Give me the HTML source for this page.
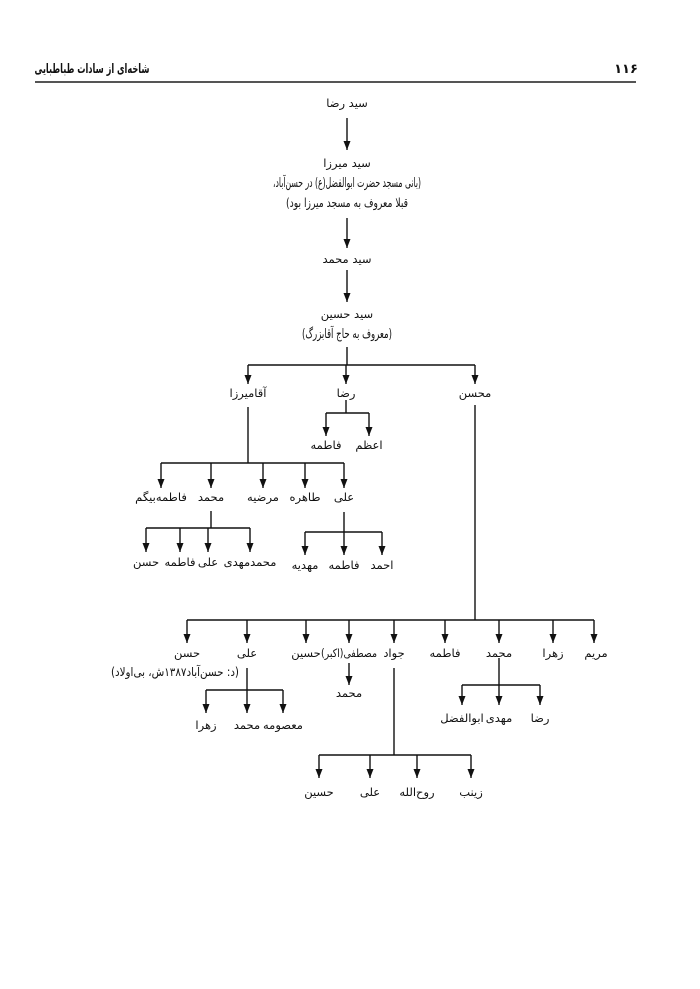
<!DOCTYPE html>
<html><head><meta charset="utf-8"><style>
html,body{margin:0;padding:0;background:#fff;}
svg{display:block}
text{font-family:"DejaVu Sans",sans-serif;font-size:11.5px;fill:#111;text-anchor:middle;direction:rtl;}
</style></head><body>
<svg width="700" height="989" viewBox="0 0 700 989" xmlns="http://www.w3.org/2000/svg">
<defs><marker id="a" markerWidth="9" markerHeight="7" refX="9" refY="3.5" orient="auto" markerUnits="userSpaceOnUse" viewBox="0 0 9 7"><path d="M0,0 L9,3.5 L0,7 Z" fill="#111"/></marker></defs>
<g stroke="#111" stroke-width="1.4" fill="none">
<line x1="35" y1="82" x2="636" y2="82" stroke="#555" stroke-width="2"/>
<line x1="347" y1="118" x2="347" y2="150" marker-end="url(#a)"/>
<line x1="347" y1="218" x2="347" y2="248" marker-end="url(#a)"/>
<line x1="347" y1="270" x2="347" y2="302" marker-end="url(#a)"/>
<line x1="347" y1="347" x2="347" y2="365"/>
<line x1="248" y1="365" x2="475" y2="365"/>
<line x1="248" y1="365" x2="248" y2="384" marker-end="url(#a)"/>
<line x1="346" y1="365" x2="346" y2="384" marker-end="url(#a)"/>
<line x1="475" y1="365" x2="475" y2="384" marker-end="url(#a)"/>
<line x1="346" y1="400" x2="346" y2="413"/>
<line x1="326" y1="413" x2="369" y2="413"/>
<line x1="326" y1="413" x2="326" y2="436" marker-end="url(#a)"/>
<line x1="369" y1="413" x2="369" y2="436" marker-end="url(#a)"/>
<line x1="248" y1="407" x2="248" y2="463"/>
<line x1="161" y1="463" x2="344" y2="463"/>
<line x1="161" y1="463" x2="161" y2="488" marker-end="url(#a)"/>
<line x1="211" y1="463" x2="211" y2="488" marker-end="url(#a)"/>
<line x1="263" y1="463" x2="263" y2="488" marker-end="url(#a)"/>
<line x1="305" y1="463" x2="305" y2="488" marker-end="url(#a)"/>
<line x1="344" y1="463" x2="344" y2="488" marker-end="url(#a)"/>
<line x1="344" y1="512" x2="344" y2="532"/>
<line x1="305" y1="532" x2="382" y2="532"/>
<line x1="305" y1="532" x2="305" y2="555" marker-end="url(#a)"/>
<line x1="344" y1="532" x2="344" y2="555" marker-end="url(#a)"/>
<line x1="382" y1="532" x2="382" y2="555" marker-end="url(#a)"/>
<line x1="211" y1="511" x2="211" y2="528"/>
<line x1="146" y1="528" x2="250" y2="528"/>
<line x1="146" y1="528" x2="146" y2="552" marker-end="url(#a)"/>
<line x1="180" y1="528" x2="180" y2="552" marker-end="url(#a)"/>
<line x1="208" y1="528" x2="208" y2="552" marker-end="url(#a)"/>
<line x1="250" y1="528" x2="250" y2="552" marker-end="url(#a)"/>
<line x1="475" y1="405" x2="475" y2="620"/>
<line x1="187" y1="620" x2="594" y2="620"/>
<line x1="187" y1="620" x2="187" y2="643" marker-end="url(#a)"/>
<line x1="247" y1="620" x2="247" y2="643" marker-end="url(#a)"/>
<line x1="306" y1="620" x2="306" y2="643" marker-end="url(#a)"/>
<line x1="349" y1="620" x2="349" y2="643" marker-end="url(#a)"/>
<line x1="394" y1="620" x2="394" y2="643" marker-end="url(#a)"/>
<line x1="445" y1="620" x2="445" y2="643" marker-end="url(#a)"/>
<line x1="499" y1="620" x2="499" y2="643" marker-end="url(#a)"/>
<line x1="553" y1="620" x2="553" y2="643" marker-end="url(#a)"/>
<line x1="594" y1="620" x2="594" y2="643" marker-end="url(#a)"/>
<line x1="247" y1="668" x2="247" y2="690"/>
<line x1="206" y1="690" x2="283" y2="690"/>
<line x1="206" y1="690" x2="206" y2="713" marker-end="url(#a)"/>
<line x1="247" y1="690" x2="247" y2="713" marker-end="url(#a)"/>
<line x1="283" y1="690" x2="283" y2="713" marker-end="url(#a)"/>
<line x1="349" y1="663" x2="349" y2="685" marker-end="url(#a)"/>
<line x1="499" y1="658" x2="499" y2="685"/>
<line x1="462" y1="685" x2="540" y2="685"/>
<line x1="462" y1="685" x2="462" y2="705" marker-end="url(#a)"/>
<line x1="499" y1="685" x2="499" y2="705" marker-end="url(#a)"/>
<line x1="540" y1="685" x2="540" y2="705" marker-end="url(#a)"/>
<line x1="394" y1="668" x2="394" y2="755"/>
<line x1="319" y1="755" x2="471" y2="755"/>
<line x1="319" y1="755" x2="319" y2="778" marker-end="url(#a)"/>
<line x1="370" y1="755" x2="370" y2="778" marker-end="url(#a)"/>
<line x1="417" y1="755" x2="417" y2="778" marker-end="url(#a)"/>
<line x1="471" y1="755" x2="471" y2="778" marker-end="url(#a)"/>
</g>
<text x="92" y="73" style="font-weight:bold;font-size:13px" textLength="115" lengthAdjust="spacingAndGlyphs">شاخه‌ای از سادات طباطبایی</text>
<text x="626" y="73" style="font-weight:bold;font-size:13px">۱۱۶</text>
<text x="347" y="107">سید رضا</text>
<text x="347" y="167">سید میرزا</text>
<text x="347" y="187" style="font-size:13px" textLength="148" lengthAdjust="spacingAndGlyphs">(بانی مسجد حضرت ابوالفضل(ع) در حسن‌آباد،</text>
<text x="347" y="207" style="font-size:12.5px" textLength="122" lengthAdjust="spacingAndGlyphs">قبلا معروف به مسجد میرزا بود)</text>
<text x="347" y="263">سید محمد</text>
<text x="347" y="318">سید حسین</text>
<text x="347" y="338" style="font-size:13px" textLength="90" lengthAdjust="spacingAndGlyphs">(معروف به حاج آقابزرگ)</text>
<text x="248" y="397">آقامیرزا</text>
<text x="346" y="397">رضا</text>
<text x="475" y="397">محسن</text>
<text x="326" y="449">فاطمه</text>
<text x="369" y="449">اعظم</text>
<text x="161" y="501">فاطمه‌بیگم</text>
<text x="211" y="501">محمد</text>
<text x="263" y="501">مرضیه</text>
<text x="305" y="501">طاهره</text>
<text x="344" y="501">علی</text>
<text x="146" y="566">حسن</text>
<text x="180" y="566">فاطمه</text>
<text x="208" y="566">علی</text>
<text x="250" y="566">محمدمهدی</text>
<text x="305" y="569">مهدیه</text>
<text x="344" y="569">فاطمه</text>
<text x="382" y="569">احمد</text>
<text x="187" y="657">حسن</text>
<text x="247" y="657">علی</text>
<text x="306" y="657">حسین</text>
<text x="349" y="657" textLength="56" lengthAdjust="spacingAndGlyphs">مصطفی(اکبر)</text>
<text x="394" y="657">جواد</text>
<text x="445" y="657">فاطمه</text>
<text x="499" y="657">محمد</text>
<text x="553" y="657">زهرا</text>
<text x="596" y="657">مریم</text>
<text x="175" y="676" style="font-size:12px" textLength="128" lengthAdjust="spacingAndGlyphs">(د: حسن‌آباد۱۳۸۷ش، بی‌اولاد)</text>
<text x="349" y="697">محمد</text>
<text x="206" y="729">زهرا</text>
<text x="247" y="729">محمد</text>
<text x="283" y="729">معصومه</text>
<text x="462" y="722">ابوالفضل</text>
<text x="499" y="722">مهدی</text>
<text x="540" y="722">رضا</text>
<text x="319" y="796">حسین</text>
<text x="370" y="796">علی</text>
<text x="417" y="796">روح‌الله</text>
<text x="471" y="796">زینب</text>
</svg>
</body></html>
